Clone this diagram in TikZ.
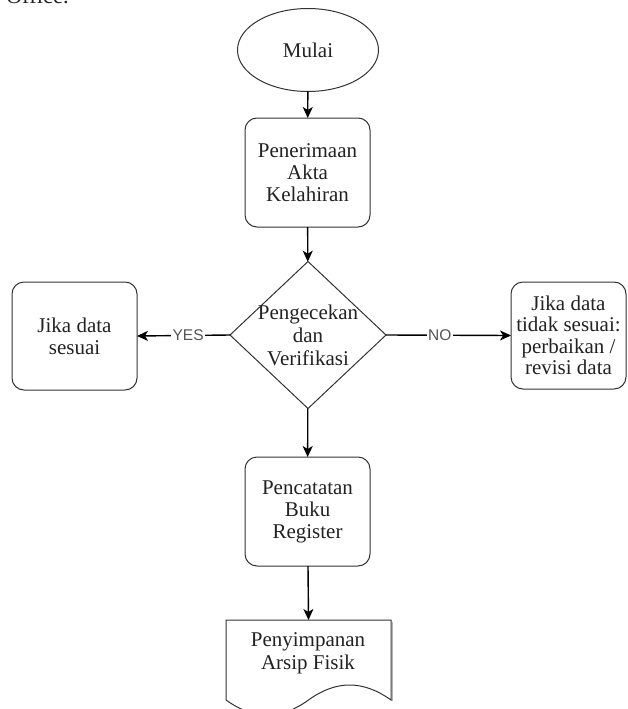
\documentclass[tikz,border=0pt]{standalone}
\usepackage{fontspec}
\setmainfont{Liberation Serif}
\newfontfamily\labfont{Liberation Sans}
\usetikzlibrary{shapes.geometric,arrows.meta}
\definecolor{outl}{HTML}{333333}
\definecolor{txt}{HTML}{222222}
\definecolor{labc}{HTML}{555555}
\begin{document}
\begin{tikzpicture}[x=1pt,y=-1pt,
  every node/.style={inner sep=0pt, outer sep=0pt},
  maintext/.style={align=center, text=txt, font=\fontsize{21}{22}\selectfont},
  proc/.style={maintext, draw=outl, line width=1pt, rounded corners=12pt,
    minimum width=125pt, minimum height=109pt},
  conn/.style={line width=1.4pt, -{Stealth[length=11pt,width=10pt,inset=3pt]}},
  lbl/.style={fill=white, font=\labfont\fontsize{15.5}{16}\selectfont, text=labc, inner xsep=1.5pt, inner ysep=1pt},
]
\useasboundingbox (0,0) rectangle (627,709);
\clip (0,0) rectangle (627,709);

% cut-off caption text at the top
\node[anchor=base west, font=\fontsize{22.5}{24}\selectfont, text=txt] (office) at (6,4) {Office.};

\node[ellipse, draw=outl, line width=1pt, minimum width=141pt, minimum height=83pt, maintext] (start) at (308,50) {Mulai};
\node[proc] (recv) at (307.5,172.5) {Penerimaan\\Akta\\Kelahiran};
\node[diamond, draw=outl, line width=1pt, minimum width=156pt, minimum height=147pt] (dec) at (308,335) {};
\node[maintext, font=\fontsize{21}{23}\selectfont] (dectext) at (308,335) {Pengecekan\\dan\\Verifikasi};
\node[proc, minimum width=125pt, minimum height=108pt] (yes) at (74.5,336) {Jika data\\sesuai};
\node[proc, minimum width=115pt, minimum height=107pt, font=\fontsize{21}{21.5}\selectfont] (no) at (568.5,335.5) {Jika data\\tidak sesuai:\\perbaikan /\\revisi data};
\node[proc] (reg) at (307.5,511.5) {Pencatatan\\Buku\\Register};

% document shape
\coordinate (doctop) at (308.5,620);
\draw[gray!60, line width=1.2pt] (392.8,622) -- (392.8,701);
\draw[outl, line width=1pt, fill=white] (226,620) -- (391,620) -- (391,700)
  .. controls (363,680) and (336,680) .. (308.5,700)
  .. controls (281,720) and (254,720) .. (226,700) -- cycle;
\node[maintext, font=\fontsize{21}{23}\selectfont] (arch) at (308,653.5) {Penyimpanan\\Arsip Fisik};

% connectors
\draw[conn] (start) -- (recv);
\draw[conn] (recv) -- (dec);
\draw[conn] (dec) -- (reg);
\draw[conn] (reg) -- (doctop);
\draw[conn] (dec.west) -- node[lbl, pos=0.45] (yeslbl) {YES} (yes.east);
\draw[conn] (dec.east) -- node[lbl, pos=0.43] (nolbl) {NO} (no.west);
\end{tikzpicture}
\end{document}
